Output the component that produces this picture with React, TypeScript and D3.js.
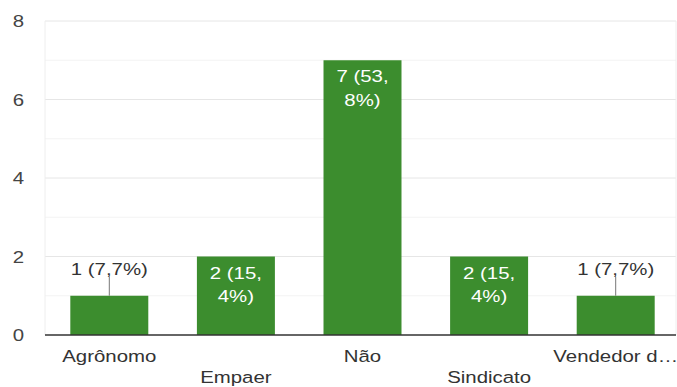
import React from "react";
import * as d3 from "d3";

const categories = ["Agrônomo", "Empaer", "Não", "Sindicato", "Vendedor d…"];
const values = [1, 2, 7, 2, 1];
const valueLabels = [["1 (7,7%)"], ["2 (15,", "4%)"], ["7 (53,", "8%)"], ["2 (15,", "4%)"], ["1 (7,7%)"]];
const yTicks = [0, 2, 4, 6, 8];
const yMinor = [1, 3, 5, 7];

const W = 677;
const H = 387;
const SX = 1.2;
const FS = 17;
const FONT = "'Liberation Sans', Arial, sans-serif";

export default function App() {
  const x = d3.scaleBand<string>().domain(categories).range([46, 679]).paddingInner(0.384).paddingOuter(0.192);
  const y = d3.scaleLinear().domain([0, 8]).range([335, 21]);
  const left = 45;
  const right = 676;
  const green = "#3c8d2e";

  const txt = (s: string, cx: number, cy: number, fill: string, key: string | number) => (
    <text
      key={key}
      transform={`translate(${cx},${cy}) scale(${SX},1)`}
      textAnchor="middle"
      fontFamily={FONT}
      fontSize={FS}
      fill={fill}
    >
      {s}
    </text>
  );

  return (
    <svg width={W} height={H} style={{ position: "absolute", left: 0, top: 0, background: "#fff" }}>
      {yMinor.map((t) => (
        <line key={"m" + t} x1={left} x2={right} y1={y(t)} y2={y(t)} stroke="#f3f3f3" strokeWidth={1} />
      ))}
      {yTicks.filter((t) => t > 0).map((t) => (
        <line key={"g" + t} x1={left} x2={right} y1={y(t)} y2={y(t)} stroke="#e6e6e6" strokeWidth={1} />
      ))}
      <line x1={left} x2={left} y1={y(8)} y2={y(0)} stroke="#eeeeee" />
      <line x1={right} x2={right} y1={y(8)} y2={y(0)} stroke="#eeeeee" />
      {yTicks.map((t) => txt(String(t), 18.5, y(t) + 6, "#444", "yt" + t))}
      {categories.map((c, i) => {
        const bx = x(c)!;
        const bw = x.bandwidth();
        const cx = bx + bw / 2;
        const top = y(values[i]);
        const lines = valueLabels[i];
        const inside = lines.length > 1;
        return (
          <g key={c}>
            <rect x={bx} y={top} width={bw} height={y(0) - top} fill={green} />
            {inside
              ? lines.map((l, j) => txt(l, cx, top + 22 + j * 23.5, "#ffffff", "l" + j))
              : [
                  <line key="ld" x1={cx} x2={cx} y1={top - 19} y2={top} stroke="#777" strokeWidth={1} />,
                  txt(lines[0], cx, top - 20.5, "#333", "l0"),
                ]}
            {txt(c, cx, i % 2 === 0 ? 362 : 382.5, "#333", "c")}
          </g>
        );
      })}
      <line x1={left} x2={right} y1={y(0)} y2={y(0)} stroke="#333" strokeWidth={1.5} />
    </svg>
  );
}
